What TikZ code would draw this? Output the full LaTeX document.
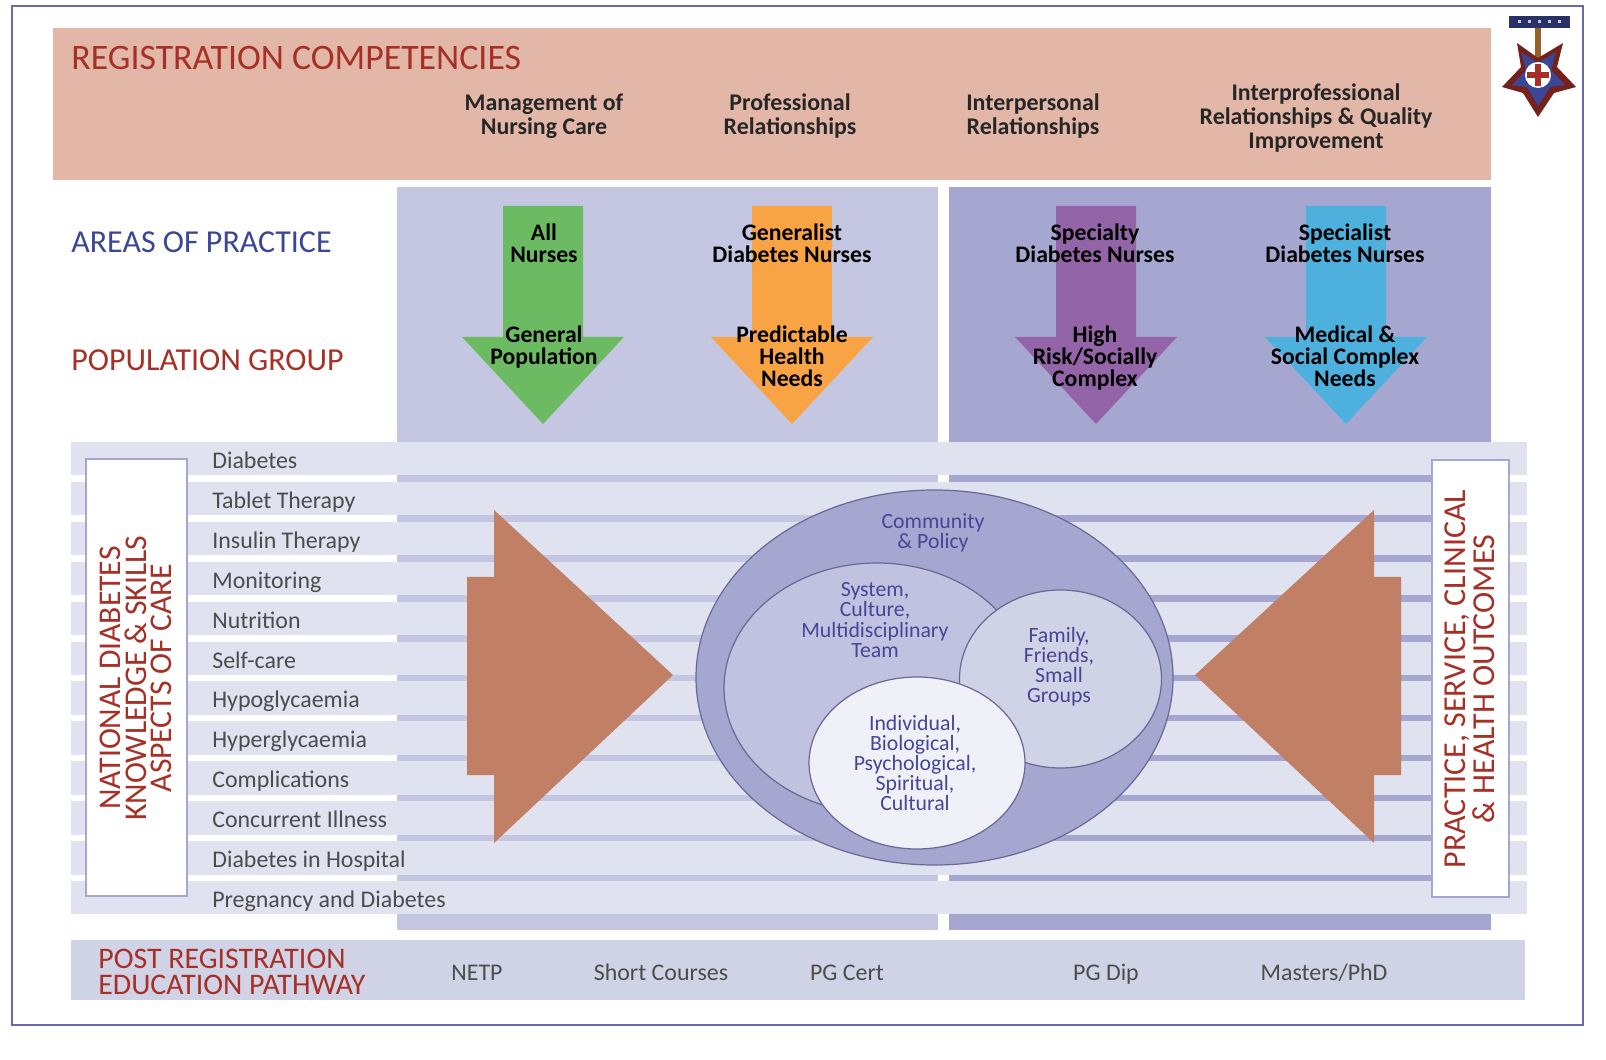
\documentclass[tikz,border=0pt]{standalone}
\usepackage{fontspec}
\setmainfont{Carlito}
\usepackage{xcolor}
\definecolor{ColBanner}{RGB}{226,183,168}
\definecolor{ColPanelA}{RGB}{197,199,226}
\definecolor{ColPanelB}{RGB}{166,167,208}
\definecolor{ColRow}{RGB}{224,226,240}
\definecolor{ColPath}{RGB}{208,210,229}
\definecolor{ColFrame}{RGB}{105,106,170}
\definecolor{ColRed}{RGB}{166,48,38}
\definecolor{ColBlue}{RGB}{58,70,150}
\definecolor{ColArrow}{RGB}{193,127,101}
\definecolor{ColInk}{RGB}{70,70,150}
\definecolor{ColEdge}{RGB}{105,106,150}
\definecolor{ColGreen}{RGB}{108,187,98}
\definecolor{ColOrange}{RGB}{249,164,68}
\definecolor{ColPurple}{RGB}{148,100,168}
\definecolor{ColCyan}{RGB}{78,176,220}
\tikzstyle{HeadLabel}=[anchor=west,align=left,text=ColRed,inner sep=0pt,
font=\fontsize{18.2}{15}\selectfont]
\tikzstyle{ColLabel}=[align=center,inner sep=0pt,text=black!85,
font=\fontsize{13.6}{13.4}\selectfont\bfseries]
\tikzstyle{ArrowLabel}=[align=center,inner sep=0pt,text=black,
font=\fontsize{13.5}{12.5}\selectfont\bfseries]
\tikzstyle{RowLabel}=[anchor=base west,inner sep=0pt,text=black!70,
font=\fontsize{13.6}{14}\selectfont]
\tikzstyle{SideLabel}=[rotate=90,align=center,inner sep=0pt,text=ColRed,
font=\fontsize{18}{14.6}\selectfont]
\tikzstyle{EllipseLabel}=[align=center,inner sep=0pt,text=ColInk,
font=\fontsize{12.4}{11.4}\selectfont]
\tikzstyle{PathLabel}=[anchor=base,inner sep=0pt,text=black!70,font=\fontsize{13.6}{14}\selectfont]
\tikzstyle{SideBox}=[fill=white,draw=ColPanelB,line width=1pt]
\tikzstyle{BigArrow}=[fill=ColArrow]
\tikzstyle{Bubble}=[draw=ColEdge,line width=0.7pt]
\begin{document}
\begin{tikzpicture}[x=0.02cm,y=-0.02cm]
        \useasboundingbox(0,0)rectangle(1606,1060);
        \fill[white](0,0)rectangle(1606,1060);
        % frame and top banner
        \draw[ColFrame,line width=1.4pt](12,6)rectangle(1583,1025);
        \fill[ColBanner](53,28)rectangle(1491,180);
        % practice panels, the rows go over them
        \fill[ColPanelA](397,187)rectangle(938,930);
        \fill[ColPanelB](949,187)rectangle(1491,930);
        \foreach \RowText[count=\RowNum from 0] in {Diabetes,Tablet Therapy,Insulin Therapy,
            Monitoring,Nutrition,Self-care,Hypoglycaemia,Hyperglycaemia,Complications,
            Concurrent Illness,Diabetes in Hospital,Pregnancy and Diabetes}{
            \pgfmathsetmacro{\RowTop}{442+39.9*\RowNum}
            \fill[ColRow](71,\RowTop)rectangle(1527,\RowTop+33.5);
            \node[RowLabel](row\RowNum)at(212,\RowTop+26.5){\RowText};
        }
        \fill[ColPath](71,940)rectangle(1525,1000);
        % down arrows
        \foreach \ArrowX/\ArrowCol in {543/ColGreen,792/ColOrange,1096/ColPurple,1346/ColCyan}{
            \fill[\ArrowCol](\ArrowX-40,206)--(\ArrowX+40,206)--(\ArrowX+40,337)--(\ArrowX+81,337)
                --(\ArrowX,424)--(\ArrowX-81,337)--(\ArrowX-40,337)--cycle;
        }
        % side boxes
        \draw[SideBox](86,459)rectangle(187,896);
        \draw[SideBox](1432,460)rectangle(1509,897);
        % big arrows
        \fill[BigArrow](467,577)--(494,577)--(494,510)--(673,675)--(494,843)--(494,775)--(467,775)--cycle;
        \fill[BigArrow](1401,577)--(1374,577)--(1374,510)--(1195,675)--(1374,843)--(1374,775)--(1401,775)--cycle;
        % ellipses
        \draw[Bubble,fill=ColPanelB](934.5,677.5)ellipse[x radius=238.5,y radius=187.5];
        \draw[Bubble,fill=ColPanelA!85!ColPanelB](877,688)ellipse[x radius=153,y radius=125];
        \draw[Bubble,fill=ColPath](1060.5,679)ellipse[x radius=101,y radius=89];
        \draw[Bubble,fill=ColRow!50!white](917,763)ellipse[x radius=108,y radius=86];
        % medal
        \fill[ColBlue!70!black](1509,16)rectangle(1570,28);
        \foreach \DotX in {1519,1529,1539,1549,1559}{
            \fill[ColPanelA](\DotX-1.5,20.5)rectangle(\DotX+1.5,23.5);
        }
        \fill[ColOrange!60!black](1535,28)rectangle(1541,58);
        \fill[ColRed!70!black](1538,58)--(1563,43)--(1557,67)--(1576,87)--(1554,93)--(1538,117)
            --(1523,93)--(1502,87)--(1521,67)--(1517,43)--cycle;
        \fill[ColBlue](1538,63)--(1556,52)--(1551,70)--(1565,85)--(1550,87)--(1538,106)
            --(1527,87)--(1512,85)--(1526,70)--(1521,52)--cycle;
        \fill[white](1538,75)circle[radius=13];
        \fill[ColRed](1535,64)rectangle(1541,86);
        \fill[ColRed](1527,72)rectangle(1549,78);
        % texts
        \node[HeadLabel,font=\fontsize{20.4}{15}\selectfont](reg)at(71,58){REGISTRATION COMPETENCIES};
        \node[HeadLabel,text=ColBlue](area)at(71,242){AREAS OF PRACTICE};
        \node[HeadLabel](popu)at(71,360){POPULATION GROUP};
        \node[ColLabel](mgmt)at(544,116){Management of\\Nursing Care};
        \node[ColLabel](prof)at(790,116){Professional\\Relationships};
        \node[ColLabel](inter)at(1033,116){Interpersonal\\Relationships};
        \node[ColLabel](qual)at(1316,118){Interprofessional\\Relationships \& Quality\\Improvement};
        \node[ArrowLabel](all)at(544,243){All\\Nurses};
        \node[ArrowLabel](gene)at(792,243){Generalist\\Diabetes Nurses};
        \node[ArrowLabel](spty)at(1095,243){Specialty\\Diabetes Nurses};
        \node[ArrowLabel](spst)at(1345,243){Specialist\\Diabetes Nurses};
        \node[ArrowLabel](gpop)at(544,347){General\\Population};
        \node[ArrowLabel](pred)at(792,356){Predictable\\Health\\Needs};
        \node[ArrowLabel](risk)at(1095,358){High\\Risk/Socially\\Complex};
        \node[ArrowLabel](medi)at(1345,356){Medical \&\\Social Complex\\Needs};
        \node[SideLabel](natl)at(136,678){NATIONAL DIABETES\\KNOWLEDGE \& SKILLS\\ASPECTS OF CARE};
        \node[SideLabel,font=\fontsize{18.2}{16.5}\selectfont](outc)at(1470,679){PRACTICE, SERVICE, CLINICAL\\\& HEALTH OUTCOMES};
        \node[EllipseLabel](comm)at(933,533){Community\\\& Policy};
        \node[EllipseLabel](syst)at(875,620){System,\\Culture,\\Multidisciplinary\\Team};
        \node[EllipseLabel](fami)at(1059,667){Family,\\Friends,\\Small\\Groups};
        \node[EllipseLabel](indi)at(915,763){Individual,\\Biological,\\Psychological,\\Spiritual,\\Cultural};
        \node[HeadLabel,font=\fontsize{17}{15.2}\selectfont](post)at(98,972){POST REGISTRATION\\EDUCATION PATHWAY};
        \node[PathLabel](netp)at(477,980){NETP};
        \node[PathLabel](shrt)at(661,980){Short Courses};
        \node[PathLabel](cert)at(847,980){PG Cert};
        \node[PathLabel](pdip)at(1106,980){PG Dip};
        \node[PathLabel](mast)at(1324,980){Masters/PhD};
\end{tikzpicture}
\end{document}
